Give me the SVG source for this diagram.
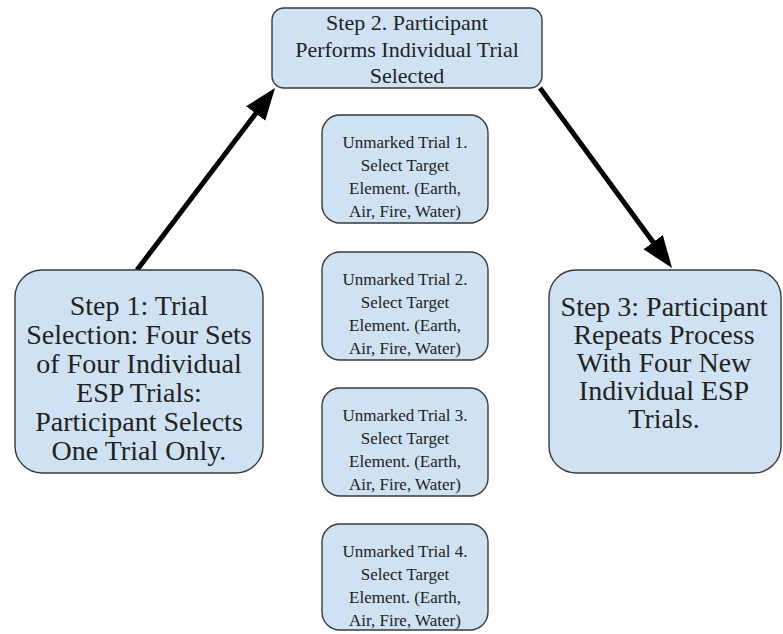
<svg xmlns="http://www.w3.org/2000/svg" width="783" height="634" viewBox="0 0 783 634">
<style>
.box{fill:#cfe2f3;stroke:#3a3a3a;stroke-width:1.4}
text{font-family:'Liberation Serif','Times New Roman',serif;fill:#222;text-anchor:middle}
.big{font-size:28px}
.mid{font-size:22px}
.small{font-size:17px}
.conn{stroke:#000;stroke-width:5;fill:none}
</style>
<defs>
<marker id="ah" markerUnits="userSpaceOnUse" viewBox="0 -13 34 26" markerWidth="34" markerHeight="26" refX="2" refY="0" orient="auto">
<path d="M0,-12 L32,0 L0,12 Z" fill="#000"/>
</marker>
</defs>
<rect width="783" height="634" fill="#fff"/>
<g id="connectors">
<line class="conn" x1="137" y1="270" x2="256.9" y2="111.9" marker-end="url(#ah)"/>
<line class="conn" x1="540" y1="88" x2="654.3" y2="243.8" marker-end="url(#ah)"/>
</g>
<g id="step2">
<rect class="box" x="272" y="8" width="270" height="80" rx="12"/>
<text class="mid" font-family="Liberation Serif, serif" x="407" y="30">Step 2. Participant</text>
<text class="mid" font-family="Liberation Serif, serif" x="407" y="57">Performs Individual Trial</text>
<text class="mid" font-family="Liberation Serif, serif" x="407" y="83">Selected</text>
</g>
<g id="step1" font-family="Liberation Serif, serif">
<rect class="box" x="15" y="270" width="248" height="203" rx="27"/>
<text class="big" font-family="Liberation Serif, serif" x="139" y="315">Step 1: Trial</text>
<text class="big" font-family="Liberation Serif, serif" x="139" y="344">Selection: Four Sets</text>
<text class="big" font-family="Liberation Serif, serif" x="139" y="373">of Four Individual</text>
<text class="big" font-family="Liberation Serif, serif" x="139" y="402">ESP Trials:</text>
<text class="big" font-family="Liberation Serif, serif" x="139" y="431">Participant Selects</text>
<text class="big" font-family="Liberation Serif, serif" x="139" y="460">One Trial Only.</text>
</g>
<g id="step3">
<rect class="box" x="549" y="270" width="232" height="203" rx="27"/>
<text class="big" font-family="Liberation Serif, serif" x="664" y="316">Step 3: Participant</text>
<text class="big" font-family="Liberation Serif, serif" x="664" y="344">Repeats Process</text>
<text class="big" font-family="Liberation Serif, serif" x="664" y="372">With Four New</text>
<text class="big" font-family="Liberation Serif, serif" x="664" y="400">Individual ESP</text>
<text class="big" font-family="Liberation Serif, serif" x="664" y="428">Trials.</text>
</g>
<g id="trial1">
<rect class="box" x="322" y="115" width="166" height="108" rx="18"/>
<text class="small" x="405" y="148">Unmarked Trial 1.</text>
<text class="small" x="405" y="171">Select Target</text>
<text class="small" x="405" y="194">Element. (Earth,</text>
<text class="small" x="405" y="217">Air, Fire, Water)</text>
</g>
<g id="trial2">
<rect class="box" x="322" y="252" width="166" height="108" rx="18"/>
<text class="small" x="405" y="285">Unmarked Trial 2.</text>
<text class="small" x="405" y="308">Select Target</text>
<text class="small" x="405" y="331">Element. (Earth,</text>
<text class="small" x="405" y="354">Air, Fire, Water)</text>
</g>
<g id="trial3">
<rect class="box" x="322" y="388" width="166" height="108" rx="18"/>
<text class="small" x="405" y="421">Unmarked Trial 3.</text>
<text class="small" x="405" y="444">Select Target</text>
<text class="small" x="405" y="467">Element. (Earth,</text>
<text class="small" x="405" y="490">Air, Fire, Water)</text>
</g>
<g id="trial4">
<rect class="box" x="322" y="524" width="166" height="106" rx="18"/>
<text class="small" x="405" y="557">Unmarked Trial 4.</text>
<text class="small" x="405" y="580">Select Target</text>
<text class="small" x="405" y="603">Element. (Earth,</text>
<text class="small" x="405" y="626">Air, Fire, Water)</text>
</g>
</svg>
